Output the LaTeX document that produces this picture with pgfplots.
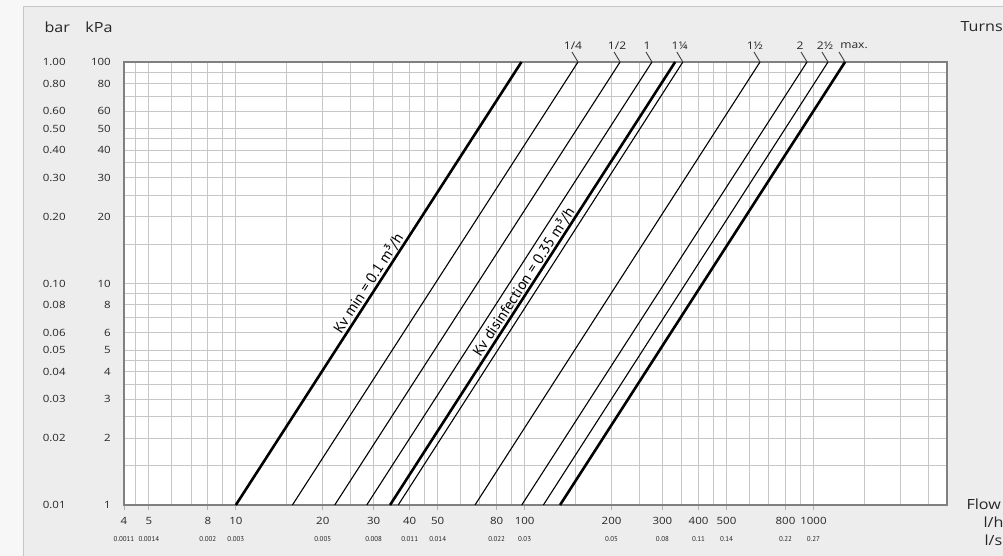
\documentclass[border=0pt]{standalone}
\usepackage{fontspec}
\setmainfont{Open Sans}[FakeStretch=1.15]
\newfontfamily\ptsans{PT Sans}
\usepackage{pgfplots}
\pgfplotsset{compat=1.18}
\newcommand{\xl}[2]{#1\\[5pt]\ptsans\fontsize{7}{8}\selectfont #2}
\newcommand{\yl}[2]{\makebox[68pt]{#1\hfill #2}}
\begin{document}
\begin{tikzpicture}[x=1pt,y=1pt]
\useasboundingbox (0,0) rectangle (1003,556);
\fill[black!3] (0,0) rectangle (1003,556);
\fill[black!7] (23,0) rectangle (1003,549);
\draw[black!22, line width=1pt] (23,0) -- (23,549) -- (1003,549);
\begin{axis}[
  at={(124pt,51pt)}, anchor=south west,
  scale only axis, width=823pt, height=443pt,
  xmode=log, ymode=log,
  xmin=4.1, xmax=2900, ymin=1, ymax=100,
  clip=false,
  axis background/.style={fill=white},
  axis line style={black!50, line width=1.4pt},
  xtick={4.1,5,8,10,20,30,40,50,80,100,200,300,400,500,800,1000},
  xticklabels={{\xl{4}{0.0011}},{\xl{5}{0.0014}},{\xl{8}{0.002}},{\xl{10}{0.003}},{\xl{20}{0.005}},{\xl{30}{0.008}},{\xl{40}{0.011}},{\xl{50}{0.014}},{\xl{80}{0.022}},{\xl{100}{0.03}},{\xl{200}{0.05}},{\xl{300}{0.08}},{\xl{400}{0.11}},{\xl{500}{0.14}},{\xl{800}{0.22}},{\xl{1000}{0.27}}},
  minor xtick={4.5,5,6,7,8,9,10,15,20,25,30,35,40,45,50,60,70,80,90,100,150,200,250,300,350,400,450,500,600,700,800,900,1000,1500,2000,2500},
  ytick={1,2,3,4,5,6,8,10,20,30,40,50,60,80,100},
  yticklabels={{\yl{0.01}{1}},{\yl{0.02}{2}},{\yl{0.03}{3}},{\yl{0.04}{4}},{\yl{0.05}{5}},{\yl{0.06}{6}},{\yl{0.08}{8}},{\yl{0.10}{10}},{\yl{0.20}{20}},{\yl{0.30}{30}},{\yl{0.40}{40}},{\yl{0.50}{50}},{\yl{0.60}{60}},{\yl{0.80}{80}},{\yl{1.00}{100}}},
  minor ytick={1.5,2,2.5,3,3.5,4,4.5,5,6,7,8,9,10,15,20,25,30,35,40,45,50,60,70,80,90},
  grid=both,
  major grid style={black!22, line width=1pt},
  minor grid style={black!22, line width=1pt},
  tick align=outside,
  major tick length=5pt, minor tick length=0pt,
  xtick style={black!30, line width=1pt},
  ytick style={draw=none},
  xtick pos=bottom, ytick pos=left,
  xticklabel style={font=\fontsize{10}{12}\selectfont, align=center, text=black!85, inner sep=2pt, yshift=-5pt},
  yticklabel style={font=\fontsize{10}{12}\selectfont, text=black!85, anchor=east, inner sep=0pt, xshift=-8pt},
]
% Kv min = 0.1 (thick)
\addplot[black, line width=2.6pt] coordinates {(10,1) (97.5,100)};
% 1/4
\addplot[black, line width=1.1pt] coordinates {(15.7,1) (153,100)};
% 1/2
\addplot[black, line width=1.1pt] coordinates {(22.0,1) (214,100)};
% 1
\addplot[black, line width=1.1pt] coordinates {(28.4,1) (276,100)};
% Kv disinfection 0.35 (thick)
\addplot[black, line width=2.6pt] coordinates {(34.2,1) (332,100)};
% 1 1/4
\addplot[black, line width=1.1pt] coordinates {(36.5,1) (353,100)};
% 1 1/2
\addplot[black, line width=1.1pt] coordinates {(67.3,1) (653,100)};
% 2
\addplot[black, line width=1.1pt] coordinates {(97.7,1) (950,100)};
% 2 1/2
\addplot[black, line width=1.1pt] coordinates {(116.1,1) (1123,100)};
% max (thick)
\addplot[black, line width=2.6pt] coordinates {(132.6,1) (1286,100)};

\node[rotate=57, anchor=south, inner sep=1.5pt, font=\ptsans\fontsize{15}{16}\selectfont, text=black] at (axis cs:30.5,9.53) {Kv min = 0.1 m³/h};
\node[rotate=57, anchor=south, inner sep=1pt, font=\ptsans\fontsize{15}{16}\selectfont, text=black] at (axis cs:104.9,9.69) {Kv disinfection = 0.35 m³/h};

\tikzset{lead/.style={black!75, line width=0.9pt}, tl/.style={font=\fontsize{10.5}{12}\selectfont, text=black!85, inner sep=2.5pt, anchor=south}}
\draw[lead] (axis cs:153,100) -- ++(-6pt,10pt) node[tl, xshift=1pt] {1/4};
\draw[lead] (axis cs:214,100) -- ++(-6pt,10pt) node[tl, xshift=3pt] {1/2};
\draw[lead] (axis cs:276,100) -- ++(-6pt,10pt) node[tl, xshift=1pt] {1};
\draw[lead] (axis cs:353,100) -- ++(-6pt,10pt) node[tl, xshift=3pt] {1¼};
\draw[lead] (axis cs:653,100) -- ++(-6pt,10pt) node[tl, xshift=1pt] {1½};
\draw[lead] (axis cs:950,100) -- ++(-6pt,10pt) node[tl, xshift=-1pt] {2};
\draw[lead] (axis cs:1123,100) -- ++(-6pt,10pt) node[tl, xshift=3pt] {2½};
\draw[lead] (axis cs:1286,100) -- ++(-6pt,10pt) node[tl, xshift=15pt] {max.};
\end{axis}
\node[anchor=west, font=\fontsize{14}{16}\selectfont, text=black!85] at (41,529) {bar};
\node[anchor=east, font=\fontsize{14}{16}\selectfont, text=black!85] at (116,529) {kPa};
\node[anchor=west, font=\fontsize{14}{16}\selectfont, text=black!85] at (957,529) {Turns};
\node[anchor=west, font=\fontsize{14}{16}\selectfont, text=black!85] at (963,52) {Flow};
\node[anchor=west, font=\fontsize{14}{16}\selectfont, text=black!85] at (980,34) {l/h};
\node[anchor=west, font=\fontsize{14}{16}\selectfont, text=black!85] at (981,16) {l/s};
\end{tikzpicture}
\end{document}
